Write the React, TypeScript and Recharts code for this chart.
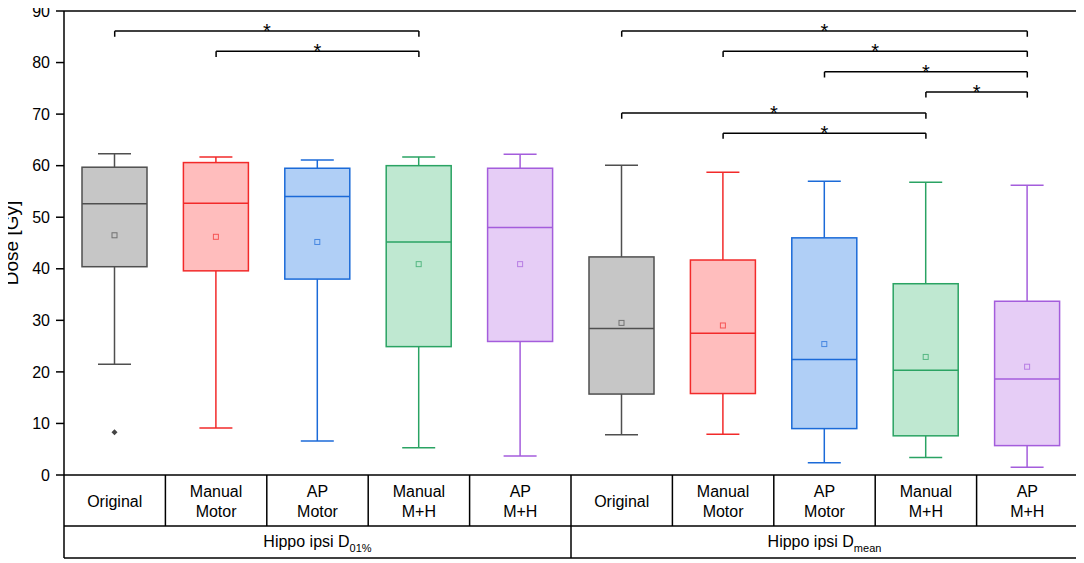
import React from "react"
import { Bar, ComposedChart, ReferenceLine, XAxis, YAxis } from "recharts"

// categories (two groups of five)
const ids = ["d01-orig", "d01-man-mot", "d01-ap-mot", "d01-man-mh", "d01-ap-mh", "dm-orig", "dm-man-mot", "dm-ap-mot", "dm-man-mh", "dm-ap-mh"]
const labels = ["Original", "Manual\nMotor", "AP\nMotor", "Manual\nM+H", "AP\nM+H", "Original", "Manual\nMotor", "AP\nMotor", "Manual\nM+H", "AP\nM+H"]
const groupNames = ["Hippo ipsi D", "Hippo ipsi D"]
const groupSubs = ["01%", "mean"]

// box plot stats (Gy)
const whiskerHigh = [62.3, 61.7, 61.1, 61.7, 62.2, 60.1, 58.7, 57.0, 56.8, 56.2]
const q3 = [59.7, 60.6, 59.5, 60.0, 59.5, 42.3, 41.7, 46.0, 37.1, 33.7]
const median = [52.6, 52.7, 54.0, 45.2, 48.0, 28.4, 27.5, 22.4, 20.3, 18.6]
const mean = [46.5, 46.2, 45.2, 40.9, 40.9, 29.5, 29.0, 25.4, 22.9, 21.0]
const q1 = [40.4, 39.6, 38.0, 24.9, 25.9, 15.7, 15.8, 9.0, 7.6, 5.7]
const whiskerLow = [21.5, 9.1, 6.6, 5.3, 3.7, 7.8, 7.9, 2.4, 3.4, 1.5]
const outliers: (number | null)[] = [8.3, null, null, null, null, null, null, null, null, null]

// significance brackets: [from index, to index, height]
const brackets: [number, number, number][] = [
    [0, 3, 86.1],
    [1, 3, 82.2],
    [5, 9, 86.1],
    [6, 9, 82.2],
    [7, 9, 78.2],
    [8, 9, 74.3],
    [5, 8, 70.2],
    [6, 8, 66.3],
]

const palette = [
    { fill: "#c6c6c6", stroke: "#4f4f4f" },
    { fill: "#ffbdbd", stroke: "#f22a2a" },
    { fill: "#b0cff6", stroke: "#1b6ad8" },
    { fill: "#bfe8d1", stroke: "#2aa363" },
    { fill: "#e6cdf6", stroke: "#a45ddc" },
]

const data = ids.map((id, i) => ({
    id,
    range: [whiskerLow[i], whiskerHigh[i]],
    q1: q1[i],
    q3: q3[i],
    median: median[i],
    mean: mean[i],
    outlier: outliers[i],
    color: palette[i % 5],
}))

const CHART_W = 1084
const CHART_H = 560
const PLOT_W = 1014
const PLOT_H = 464
const BW = PLOT_W / ids.length
const AXIS_H = 85

function BoxShape(props: any) {
    const { x, y, width, height, payload } = props
    const top = Math.min(y, y + height)
    const h = Math.abs(height)
    const [lo, hi] = payload.range
    const k = h / (hi - lo)
    const yOf = (v: number) => top + (hi - v) * k
    const cx = x + width / 2
    const cap = 33
    const { fill, stroke } = payload.color
    const yq1 = yOf(payload.q1)
    const yq3 = yOf(payload.q3)
    const ym = yOf(payload.mean)
    return (
        <g>
            <line x1={cx} x2={cx} y1={yOf(hi)} y2={yq3} stroke={stroke} strokeWidth={1.5} />
            <line x1={cx} x2={cx} y1={yq1} y2={yOf(lo)} stroke={stroke} strokeWidth={1.5} />
            <line x1={cx - cap / 2} x2={cx + cap / 2} y1={yOf(hi)} y2={yOf(hi)} stroke={stroke} strokeWidth={1.5} />
            <line x1={cx - cap / 2} x2={cx + cap / 2} y1={yOf(lo)} y2={yOf(lo)} stroke={stroke} strokeWidth={1.5} />
            <rect x={x} y={yq3} width={width} height={yq1 - yq3} fill={fill} stroke={stroke} strokeWidth={1.5} />
            <line x1={x} x2={x + width} y1={yOf(payload.median)} y2={yOf(payload.median)} stroke={stroke} strokeWidth={1.5} />
            <rect x={cx - 2.5} y={ym - 2.5} width={5} height={5} fill="none" stroke={stroke} strokeOpacity={0.7} strokeWidth={1} />
            {payload.outlier != null && (
                <path
                    d={`M${cx},${yOf(payload.outlier) - 3} L${cx + 3},${yOf(payload.outlier)} L${cx},${yOf(payload.outlier) + 3} L${cx - 3},${yOf(payload.outlier)} Z`}
                    fill="#444"
                />
            )}
        </g>
    )
}

function CategoryTick(props: any) {
    const { x, y, index } = props
    const lines = labels[index].split("\n")
    const left = x - BW / 2
    const right = x + BW / 2
    const g = Math.floor(index / 5)
    return (
        <g>
            {lines.length === 1 ? (
                <text x={x} y={y + 32} textAnchor="middle" fontSize={16} fill="#000">{lines[0]}</text>
            ) : (
                <text x={x} y={y + 22} textAnchor="middle" fontSize={16} fill="#000">
                    <tspan x={x}>{lines[0]}</tspan>
                    <tspan x={x} dy={20}>{lines[1]}</tspan>
                </text>
            )}
            <line x1={right} x2={right} y1={y} y2={y + 51} stroke="#000" strokeWidth={1.5} />
            {index === 0 && (
                <g>
                    <line x1={left} x2={left} y1={y} y2={y + 83} stroke="#000" strokeWidth={1.5} />
                    <line x1={left} x2={left + PLOT_W} y1={y + 51} y2={y + 51} stroke="#000" strokeWidth={1.5} />
                    <line x1={left} x2={left + PLOT_W} y1={y + 83} y2={y + 83} stroke="#000" strokeWidth={1.5} />
                </g>
            )}
            {index % 5 === 0 && (
                <text x={left + 2.5 * BW} y={y + 72} textAnchor="middle" fontSize={16} fill="#000">
                    {groupNames[g]}
                    <tspan fontSize={11} dy={5}>{groupSubs[g]}</tspan>
                </text>
            )}
            {index === 4 && <line x1={right} x2={right} y1={y + 51} y2={y + 83} stroke="#000" strokeWidth={1.5} />}
            {index === ids.length - 1 && (
                <line x1={right} x2={right} y1={y - PLOT_H} y2={y + 83} stroke="#000" strokeWidth={1.5} />
            )}
        </g>
    )
}

function Star(props: any) {
    const vb = props.viewBox
    if (!vb) return null
    return (
        <text x={vb.x + vb.width / 2} y={vb.y + 7} textAnchor="middle" fontSize={20} fill="#000">
            *
        </text>
    )
}

export default function App() {
    return (
        <div style={{ width: CHART_W, height: CHART_H, margin: "-8px 0 0 -8px", fontFamily: "'Liberation Sans', Arial, sans-serif" }}>
            <ComposedChart
                width={CHART_W}
                height={CHART_H}
                data={data}
                margin={{ top: 11, right: 6, bottom: 0, left: 0 }}
            >
                <XAxis
                    dataKey="id"
                    height={AXIS_H}
                    tick={<CategoryTick />}
                    tickLine={false}
                    tickSize={0}
                    tickMargin={0}
                    interval={0}
                    axisLine={{ stroke: "#000", strokeWidth: 1.5 }}
                />
                <YAxis
                    type="number"
                    domain={[0, 90]}
                    ticks={[0, 10, 20, 30, 40, 50, 60, 70, 80, 90]}
                    width={64}
                    tickSize={8}
                    tickMargin={6}
                    tick={{ fontSize: 16, fill: "#000" }}
                    tickLine={{ stroke: "#000", strokeWidth: 1.5 }}
                    axisLine={{ stroke: "#000", strokeWidth: 1.5 }}
                    label={{ value: "Dose [Gy]", angle: -90, position: "insideLeft", offset: 11, fontSize: 19, fill: "#000", style: { textAnchor: "middle" } }}
                />
                <ReferenceLine y={90} stroke="#000" strokeWidth={1.5} />
                <Bar dataKey="range" barSize={65} shape={<BoxShape />} isAnimationActive={false} />
                {brackets.map(([a, b, v], i) => (
                    <ReferenceLine
                        key={`b${i}`}
                        segment={[{ x: ids[a], y: v }, { x: ids[b], y: v }]}
                        stroke="#000"
                        strokeWidth={1.5}
                        label={Star}
                    />
                ))}
                {brackets.flatMap(([a, b, v], i) =>
                    [a, b].map((c, j) => (
                        <ReferenceLine
                            key={`t${i}-${j}`}
                            segment={[{ x: ids[c], y: v }, { x: ids[c], y: v - 1.1 }]}
                            stroke="#000"
                            strokeWidth={1.5}
                        />
                    ))
                )}
            </ComposedChart>
        </div>
    )
}
